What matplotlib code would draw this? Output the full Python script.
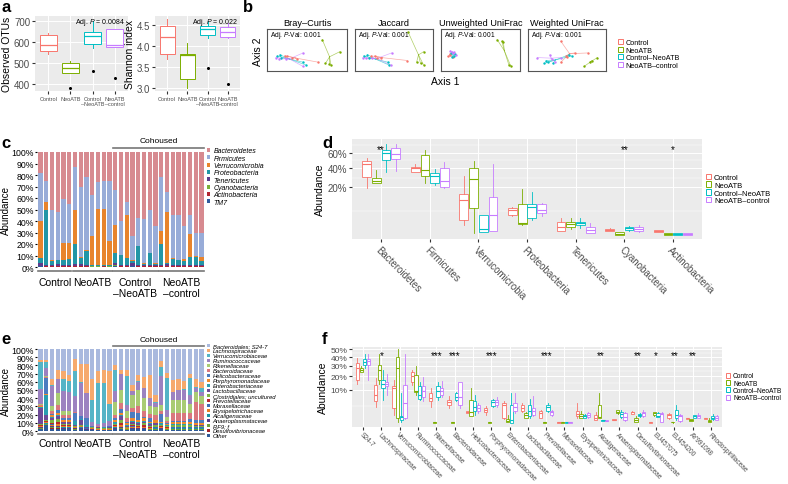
import numpy as np
import matplotlib.pyplot as plt
import matplotlib.transforms as mtransforms
from matplotlib.patches import Patch

plt.rcParams['font.family'] = ['Liberation Sans', 'DejaVu Sans']
plt.rcParams['mathtext.fontset'] = 'custom'
plt.rcParams['mathtext.it'] = 'Liberation Sans:italic'
plt.rcParams['mathtext.rm'] = 'Liberation Sans'

# ---------------- data ----------------
groups = ['Control', 'NeoATB', 'Control–NeoATB', 'NeoATB–control']
group_ticks = ['Control', 'NeoATB', 'Control\n–NeoATB', 'NeoATB\n–control']
group_colors = ['#F8766D', '#7CAE00', '#00BFC4', '#C77CFF']

# a: alpha diversity (low whisker, q1, median, q3, high whisker, outlier)
otu_lo = [545, 455, 575, 578]
otu_q1 = [560, 455, 590, 578]
otu_med = [585, 478, 632, 585]
otu_q3 = [635, 502, 650, 665]
otu_hi = [645, 510, 700, 665]
otu_out = [None, 380, 465, 430]

sh_lo = [3.70, 3.00, 4.20, 4.20]
sh_q1 = [3.82, 3.22, 4.27, 4.22]
sh_med = [4.22, 3.78, 4.40, 4.33]
sh_q3 = [4.47, 3.82, 4.48, 4.45]
sh_hi = [4.65, 4.07, 4.60, 4.55]
sh_out = [None, None, 3.47, 3.10]

# b: ordination points per group (x list, y list)
ord_titles = ['Bray–Curtis', 'Jaccard', 'Unweighted UniFrac', 'Weighted UniFrac']
bray = {
    'Control': ([.22, .25, .31, .38, .64], [.36, .36, .32, .29, .21]),
    'NeoATB': ([.69, .91, .73, .78, .80], [.75, .46, .18, .16, .14]),
    'Control–NeoATB': ([.13, .16, .18, .45, .49], [.36, .39, .32, .21, .14]),
    'NeoATB–control': ([.11, .15, .45, .45, .24], [.32, .29, .43, .11, .29]),
}
jaccard = {
    'Control': ([.21, .25, .33, .67, .28], [.36, .36, .32, .25, .30]),
    'NeoATB': ([.68, .88, .79, .84, .88], [.93, .46, .21, .18, .14]),
    'Control–NeoATB': ([.11, .16, .18, .42, .44], [.36, .39, .32, .21, .14]),
    'NeoATB–control': ([.10, .14, .47, .46, .22], [.32, .30, .43, .14, .30]),
}
unweighted = {
    'Control': ([.09, .12, .15, .11], [.35, .38, .33, .40]),
    'NeoATB': ([.71, .77, .79, .86, .88], [.75, .71, .68, .14, .13]),
    'Control–NeoATB': ([.13, .16, .18, .14], [.44, .36, .40, .33]),
    'NeoATB–control': ([.12, .15, .17, .19, .14], [.48, .42, .45, .38, .46]),
}
weighted = {
    'Control': ([.42, .49, .60, .77, .42, .50], [.71, .36, .43, .43, .21, .33]),
    'NeoATB': ([.72, .79, .82, .89], [.11, .21, .25, .32]),
    'Control–NeoATB': ([.23, .21, .32, .53, .56, .26], [.25, .18, .18, .39, .36, .22]),
    'NeoATB–control': ([.12, .28, .35, .42, .31], [.32, .39, .21, .32, .29]),
}

# c: phylum relative abundance per sample (%)
phyla = ['Bacteroidetes', 'Firmicutes', 'Verrucomicrobia', 'Proteobacteria',
         'Tenericutes', 'Cyanobacteria', 'Actinobacteria', 'TM7']
phyla_colors = ['#D78A90', '#98ACD8', '#E8842C', '#2296A6', '#5E3B8C', '#7AAE3A', '#B22530', '#2F5B9E']
bacteroidetes = [18, 25, 50, 52, 41, 45, 13, 30, 22, 37, 26, 25, 25, 34, 60, 43, 73, 57, 58, 50, 64, 22, 35, 55, 55, 64, 55, 70, 70]
firmicutes = [42, 18, 44, 41.5, 38, 34, 37, 61, 63.5, 36, 23, 24, 52, 30, 29.5, 12, 21.5, 24.5, 38.5, 37.5, 32, 47, 17, 37.5, 38.5, 29, 16, 20.5, 21]
verrucomicrobia = [32, 7, 1, 0.5, 15, 14, 30, 1, 0.5, 25, 49, 49, 20.5, 25, 0.5, 37, 0.5, 0.5, 0.5, 0.5, 1, 11, 44, 0.5, 0.5, 2, 20, 0.5, 4]
proteobacteria = [5, 48, 3, 3.5, 4, 5, 17.5, 5.5, 12, 0.7, 0.5, 0.5, 1, 8, 8, 6, 2, 16, 1, 10, 1, 18, 1.5, 5, 4, 3, 7, 7, 3]
tenericutes = [2, 1, 1, 1.5, 1, 1, 1.5, 1.5, 1, 0.3, 0.5, 0.5, 0.5, 2, 1, 1, 2, 1, 1, 1, 1, 1, 1.5, 1, 1, 1, 1, 1, 1]
cyanobacteria = [0.3, 0.2, 0.3, 0.3, 0.3, 0.3, 0.2, 0.3, 0.3, 0.2, 0.2, 0.2, 0.2, 0.8, 0.4, 0.3, 0.4, 0.3, 0.3, 0.3, 0.3, 0.3, 0.3, 0.3, 0.3, 0.3, 0.3, 0.3, 0.3]
actinobacteria = [0.3, 0.4, 0.3, 0.3, 0.3, 0.3, 0.3, 0.3, 0.3, 0.2, 0.2, 0.2, 0.2, 0.4, 0.3, 0.3, 0.3, 0.3, 0.3, 0.3, 0.3, 0.3, 0.3, 0.3, 0.3, 0.3, 0.3, 0.3, 0.3]
tm7 = [0.5, 0.3, 0.4, 0.3, 0.4, 0.3, 0.3, 0.4, 0.3, 0.2, 0.2, 0.3, 0.2, 0.6, 0.4, 0.3, 0.5, 0.3, 0.4, 0.3, 0.3, 0.4, 0.3, 0.4, 0.3, 0.3, 0.4, 0.3, 0.3]
group_spans = [(0, 5), (6, 12), (13, 20), (21, 28)]

# d: phylum box stats (%): (low, q1, median, q3, high)
d_control = [(19.4, 30.1, 44.5, 48.7, 53.1), (34.8, 34.8, 39.3, 41.6, 44.5), (0.77, 2.0, 10.6, 15.0, 31.1),
             (3.0, 3.5, 5.5, 6.2, 6.9), (0.12, 0.15, 0.6, 1.4, 2.4), (0.1, 0.14, 0.21, 0.28, 0.4), (0.05, 0.06, 0.14, 0.19, 0.19)]
d_neoatb = [(24.0, 24.0, 25.6, 28.5, 37.7), (23.7, 31.1, 37.4, 56.7, 64.9), (0.02, 6.2, 27.9, 39.3, 48.7),
            (0.9, 1.0, 1.2, 8.2, 18.9), (0.28, 0.56, 1.0, 1.4, 2.4), (0.0, 0.0, 0.004, 0.06, 0.06), (0.0, 0.0, 0.01, 0.03, 0.03)]
d_cn = [(35.5, 50.0, 60.0, 64.0, 74.3), (22.3, 24.0, 31.1, 33.6, 38.5), (0.06, 0.06, 0.31, 3.5, 3.5),
        (2.0, 2.4, 6.7, 8.4, 16.3), (0.4, 0.77, 1.27, 1.56, 2.6), (0.12, 0.19, 0.38, 0.6, 0.75), (0.0, 0.0, 0.01, 0.03, 0.03)]
d_nc = [(36.6, 50.8, 57.7, 67.4, 74.3), (19.4, 20.3, 25.6, 39.3, 47.4), (0.1, 0.16, 3.5, 12.7, 44.5),
        (3.3, 4.1, 5.5, 8.2, 8.8), (0.02, 0.03, 0.21, 0.56, 1.3), (0.08, 0.15, 0.35, 0.55, 0.85), (0.0, 0.0, 0.01, 0.03, 0.03)]
d_stars = ['**', '', '', '', '', '**', '*']

# e: family relative abundance per sample (%)
families = ['Bacteroidales; S24-7', 'Lachnospiraceae', 'Verrucomicrobiaceae', 'Ruminococcaceae', 'Rikenellaceae',
            'Bacteroidaceae', 'Helicobacteraceae', 'Porphyromonadaceae', 'Enterobacteriaceae', 'Lactobacillaceae',
            'Clostridiales; uncultured', 'Prevotellaceae', 'Moraxellaceae', 'Erysipelotrichaceae', 'Alcaligenaceae',
            'Anaeroplasmataceae', 'RF9; f', 'Desulfovibrionaceae', 'Other']
family_colors = ['#A9B9DE', '#F6A96C', '#55B4C6', '#9C82C0', '#A9CB73', '#D9777E', '#4B7CC0', '#F08A2C', '#2A9DB0',
                 '#6E4A97', '#7DB441', '#B8282E', '#3D6DB5', '#E97C26', '#1B93A5', '#593C8A', '#6E9F3A', '#A32228', '#2F5B99']
s24_7 = [14, 13, 38, 27, 28, 33, 13, 20, 22, 37, 28, 27, 28, 22, 25, 28, 45, 32, 35, 32, 57, 16, 30, 38, 37, 38, 30, 38, 42]
lachno = [3, 3, 7, 10, 10, 7, 15, 22, 35, 26, 14, 16, 40, 6, 5, 7, 7, 8, 13, 28, 8, 7, 5, 14, 13, 10, 5, 10, 8]
verruco = [33, 7, 1, 0.5, 14, 14, 30, 1, 0.5, 26, 50, 49, 21, 25, 0.5, 35, 0.5, 0.5, 0.5, 0.5, 1, 11, 40, 0.5, 0.5, 2, 20, 0.5, 4]
rumino = [18, 10, 25, 17, 25, 23, 20, 40, 30, 5, 3, 4, 6, 14, 20, 8, 5, 10, 12, 10, 5, 35, 8, 10, 12, 12, 12, 5, 5]
rikenell = [1, 1, 5, 15, 5, 5, 0.2, 0.2, 0.2, 0.2, 0.2, 0.2, 0.2, 15, 15, 8, 15, 20, 15, 10, 10, 8, 5, 15, 15, 15, 10, 12, 10]
bacteroid = [1, 1, 4, 6, 3, 4, 0.2, 0.2, 0.2, 0.2, 0.2, 0.2, 0.2, 4, 8, 5, 5, 8, 8, 4, 6, 3, 3, 10, 10, 10, 8, 22, 20]
helico = [1, 20, 2, 3, 3, 2, 10, 3, 8, 0.5, 0.3, 0.3, 0.5, 3, 4, 2, 8, 8, 1, 5, 0.5, 10, 1, 2, 2, 2, 4, 4, 3]
porphyro = [1, 1, 2, 3, 1.5, 2, 0.2, 0.2, 0.2, 0.2, 0.2, 0.2, 0.2, 2, 3, 2, 4, 3, 4, 2, 3, 1, 1, 2, 2, 2, 2, 2, 2]
entero = [1, 25, 1, 1, 1, 1, 5, 2, 2, 0.2, 0.2, 0.2, 0.3, 2, 1, 1, 0.5, 1, 0.5, 1, 0.5, 2, 0.5, 0.5, 0.5, 0.5, 0.5, 0.5, 0.5]
lacto = [20, 6, 3, 4, 1.5, 1.5, 1, 5, 1, 0.5, 1, 1, 1, 1, 5, 1, 2, 2, 2, 1.5, 2, 1, 1, 1, 1, 1, 1, 1, 1]
clostr = [1, 1, 3, 3, 2, 2, 1, 2, 1, 1, 1, 0.5, 1, 1, 4, 1, 2, 2, 2, 1.5, 2, 1, 1, 1.5, 1.5, 1.5, 1.5, 1, 1]
prevo = [0.5, 0.5, 2, 2.5, 1, 1, 0.1, 0.1, 0.1, 0.1, 0.1, 0.1, 0.1, 1, 2, 0.5, 1.5, 1, 2, 1, 1, 0.5, 0.5, 1, 1, 1, 1, 1, 1]
morax = [0.5, 0.5, 0.5, 0.5, 0.5, 0.5, 0.3, 0.3, 0.2, 0.2, 0.2, 0.2, 0.2, 0.5, 0.5, 0.3, 0.5, 0.3, 0.3, 0.3, 0.3, 0.3, 0.3, 0.3, 0.3, 0.3, 0.3, 0.3, 0.3]
erysip = [1, 1, 1.5, 2, 1, 1, 1, 1, 0.5, 1, 0.5, 0.5, 0.5, 1, 2, 0.5, 1.5, 1, 1.5, 1, 1, 1, 1, 1, 1, 1, 1, 1, 1]
alcalig = [0.5, 1, 0.5, 0.5, 0.5, 0.5, 0.5, 0.5, 0.3, 0.2, 0.2, 0.2, 0.2, 0.5, 0.5, 0.3, 0.3, 0.3, 0.3, 0.3, 0.3, 0.3, 0.3, 0.3, 0.3, 0.3, 0.3, 0.3, 0.3]
anaero = [1, 1, 1, 1.5, 1, 1, 1, 1, 0.5, 0.2, 0.2, 0.2, 0.2, 1, 1, 0.5, 0.5, 0.5, 0.5, 0.5, 0.5, 1, 0.5, 0.5, 0.5, 0.5, 0.5, 0.5, 0.5]
rf9 = [0.5, 0.5, 1, 1, 0.5, 0.5, 0.5, 0.5, 0.3, 0.2, 0.2, 0.2, 0.2, 0.5, 1, 0.3, 0.5, 0.5, 0.5, 0.3, 0.5, 0.5, 0.3, 0.5, 0.5, 0.5, 0.5, 0.5, 0.5]
desulfo = [0.5, 0.5, 0.5, 0.5, 0.5, 0.5, 0.3, 0.5, 0.3, 0.2, 0.2, 0.2, 0.2, 0.5, 0.5, 0.3, 0.3, 0.3, 0.3, 0.3, 0.3, 0.3, 0.3, 0.3, 0.3, 0.3, 0.3, 0.3, 0.3]
other = [2.5, 7, 3, 3, 2, 2, 1.5, 2, 1, 1.3, 1, 1, 1, 2, 2, 1.5, 2, 2, 2, 1.5, 1.5, 2, 1.5, 1.5, 1.5, 1.5, 1.5, 1.5, 1.5]

# f: family box stats (%)
f_names = ['S24-7', 'Lachnospiraceae', 'Verrucomicrobiaceae', 'Ruminococcaceae', 'Rikenellaceae', 'Bacteroidaceae',
           'Helicobacteraceae', 'Porphyromonadaceae', 'Enterobacteriaceae', 'Lactobacillaceae', 'Prevotellaceae',
           'Moraxellaceae', 'Erysipelotrichaceae', 'Alcaligenaceae', 'Anaeroplasmataceae', 'Desulfovibrionaceae',
           'EU457075', 'EU454200', 'AY991098', 'Rhodospirillaceae']
f_control = [(14.1, 17.2, 28.3, 32.6, 38.8), (2.4, 4.2, 7.3, 13.2, 18.3), (0.49, 2.0, 11.3, 12.2, 17.2),
             (13.2, 15.1, 19.9, 23.8, 25.6), (2.4, 4.2, 5.6, 8.1, 11.3), (2.0, 2.8, 3.9, 4.8, 6.7),
             (0.9, 0.9, 1.0, 1.3, 1.3), (0.57, 1.0, 1.6, 2.0, 2.5), (0.13, 0.24, 2.8, 3.7, 4.2),
             (1.0, 1.3, 2.0, 2.8, 3.7), (0.24, 0.24, 0.8, 1.3, 1.6), (0.0, 0.0, 0.003, 0.01, 0.01),
             (0.24, 0.38, 0.65, 1.3, 3.7), (0.05, 0.08, 0.24, 0.49, 1.0), (0.05, 0.05, 0.08, 0.1, 0.1),
             (0.65, 0.65, 1.0, 1.1, 1.3), (0.0, 0.0, 0.003, 0.005, 0.005), (0.13, 0.19, 0.49, 0.65, 0.8),
             (0.13, 0.13, 0.19, 0.24, 0.24), (0.1, 0.1, 0.19, 0.24, 0.24)]
f_neoatb = [(24.3, 24.3, 25.6, 27.5, 29.7), (14.1, 17.2, 25.6, 31.2, 44.0), (0.01, 0.24, 28.3, 40.5, 50.0),
            (7.3, 8.8, 9.6, 21.3, 29.7), (0.0, 0.0, 0.001, 0.005, 0.005), (0.0, 0.0, 0.001, 0.003, 0.003),
            (0.38, 0.38, 1.0, 4.8, 11.3), (0.0, 0.0, 0.001, 0.003, 0.003), (0.01, 0.01, 0.03, 0.13, 0.57),
            (0.19, 0.24, 0.49, 0.8, 1.0), (0.0, 0.0, 0.001, 0.003, 0.003), (0.0, 0.0, 0.001, 0.003, 0.003),
            (0.19, 0.24, 0.38, 0.65, 1.3), (0.19, 0.24, 0.29, 2.8, 8.1), (0.65, 0.8, 1.0, 1.5, 1.6),
            (0.003, 0.01, 0.05, 0.24, 0.38), (0.38, 0.49, 0.8, 1.0, 1.1), (0.0, 0.0005, 0.003, 0.01, 0.01),
            (0.03, 0.03, 0.08, 0.13, 0.13), (0.005, 0.01, 0.03, 0.08, 0.19)]
f_cn = [(28.3, 31.2, 34.1, 37.2, 44.0), (4.8, 11.3, 13.6, 17.2, 25.6), (0.01, 0.05, 0.29, 0.38, 8.1),
        (4.8, 5.4, 7.3, 12.2, 15.1), (4.8, 6.0, 9.3, 12.2, 15.1), (4.2, 4.8, 6.3, 8.1, 8.8),
        (0.57, 1.3, 2.4, 4.2, 7.3), (2.4, 2.5, 4.0, 4.8, 5.4), (0.0, 0.0, 0.08, 2.8, 8.1),
        (0.24, 0.38, 1.3, 2.8, 5.4), (1.0, 1.3, 2.4, 2.8, 3.7), (0.0, 0.0, 0.001, 0.003, 0.003),
        (0.24, 0.24, 0.38, 0.57, 0.65), (0.03, 0.03, 0.05, 0.08, 0.08), (0.19, 0.29, 0.65, 1.0, 1.6),
        (0.29, 0.38, 0.49, 0.65, 0.8), (0.29, 0.29, 0.38, 0.8, 1.0), (0.08, 0.19, 0.49, 1.6, 2.8),
        (0.24, 0.24, 0.38, 0.49, 0.49), (0.08, 0.13, 0.24, 0.38, 0.65)]
f_nc = [(17.2, 31.2, 35.7, 38.2, 44.0), (7.3, 12.2, 13.6, 15.5, 21.8), (0.13, 0.24, 3.7, 13.2, 44.0),
        (4.2, 6.0, 9.6, 12.2, 19.5), (6.0, 7.3, 9.6, 11.3, 16.2), (2.0, 2.8, 6.0, 15.1, 15.1),
        (0.8, 1.3, 2.0, 2.8, 3.7), (2.4, 2.8, 4.0, 4.8, 6.0), (0.8, 1.3, 2.4, 3.7, 8.1),
        (0.38, 0.57, 1.3, 2.0, 6.7), (0.38, 0.57, 1.0, 1.3, 1.6), (0.0, 0.0, 0.001, 0.003, 0.003),
        (0.24, 0.29, 0.57, 0.8, 1.0), (0.02, 0.02, 0.03, 0.05, 0.05), (0.03, 0.05, 0.29, 0.8, 1.0),
        (0.29, 0.38, 0.8, 1.1, 1.6), (0.003, 0.01, 0.65, 0.8, 1.0), (0.01, 0.03, 0.38, 0.57, 0.65),
        (0.19, 0.24, 0.38, 0.49, 0.8), (0.05, 0.08, 0.24, 0.38, 0.49)]
f_stars = ['', '*', '', '', '***', '***', '', '***', '', '', '***', '', '', '**', '', '**', '*', '**', '**', '']

# ---------------- figure ----------------
W, H = 788, 485
fig = plt.figure(figsize=(7.88, 4.85), dpi=100)


def px_axes(x0, y0, x1, y1):
    return fig.add_axes([x0 / W, 1 - y1 / H, (x1 - x0) / W, (y1 - y0) / H])


def gg_style(ax):
    ax.set_facecolor('#EBEBEB')
    for s in ax.spines.values():
        s.set_visible(False)
    ax.grid(True, which='both', color='white', lw=0.7)
    ax.grid(True, which='minor', color='white', lw=0.35)
    ax.set_axisbelow(True)
    ax.tick_params(length=2, color='#333333', labelcolor='#4D4D4D', labelsize=6.5, pad=1.5)


def draw_boxes(ax, positions, stats, colors, width, fliers=None, lw=0.7):
    bx = []
    for i, (lo, q1, med, q3, hi) in enumerate(stats):
        fl = [] if fliers is None or fliers[i] is None else [fliers[i]]
        bx.append(dict(whislo=lo, q1=q1, med=med, q3=q3, whishi=hi, fliers=fl))
    res = ax.bxp(bx, positions=positions, widths=width, patch_artist=True, showcaps=False,
                 manage_ticks=False,
                 flierprops=dict(marker='o', markersize=1.2, markerfacecolor='black', markeredgecolor='black'))
    for i, c in enumerate(colors):
        res['boxes'][i].set(facecolor='white', edgecolor=c, lw=lw)
        res['medians'][i].set(color=c, lw=lw + 0.2)
        res['whiskers'][2 * i].set(color=c, lw=lw)
        res['whiskers'][2 * i + 1].set(color=c, lw=lw)


def letter(x, y, s):
    fig.text(x / W, 1 - y / H, s, fontsize=12, fontweight='bold', va='center', ha='left')


# ----- a -----
letter(1, 8, 'a')
a_sets = [
    ((35, 17, 128, 92), 'Observed OTUs', list(zip(otu_lo, otu_q1, otu_med, otu_q3, otu_hi)), otu_out,
     (368, 725), [400, 500, 600, 700], 'Adj. $P$ = 0.0084'),
    ((155, 17, 240, 92), 'Shannon index', list(zip(sh_lo, sh_q1, sh_med, sh_q3, sh_hi)), sh_out,
     (2.93, 4.72), [3.0, 3.5, 4.0, 4.5], 'Adj. $P$ = 0.022'),
]
for box, ylab, stats, outs, ylim, yt, ptxt in a_sets:
    ax = px_axes(*box)
    gg_style(ax)
    draw_boxes(ax, [1, 2, 3, 4], stats, group_colors, 0.75, fliers=outs)
    ax.set_xlim(0.4, 4.6)
    ax.set_ylim(*ylim)
    ax.set_yticks(yt)
    ax.set_xticks([1, 2, 3, 4])
    ax.set_xticklabels(group_ticks, fontsize=4.0, linespacing=0.95)
    ax.tick_params(axis='y', labelsize=7)
    ax.set_ylabel(ylab, fontsize=7.5, labelpad=1)
    ax.text(0.97, 0.93, ptxt, transform=ax.transAxes, ha='right', va='center', fontsize=5)

# ----- b -----
letter(243, 8, 'b')
b_boxes = [(267, 30, 347, 72), (355, 30, 433, 72), (441, 30, 520, 72), (528, 30, 606, 72)]
for box, title, data in zip(b_boxes, ord_titles, [bray, jaccard, unweighted, weighted]):
    ax = px_axes(*box)
    ax.set_xticks([])
    ax.set_yticks([])
    for s in ax.spines.values():
        s.set_color('#555555')
        s.set_linewidth(0.8)
    for g, c in zip(groups, group_colors):
        xs, ys = data[g]
        cx, cy = np.mean(xs), np.mean(ys)
        for x, y in zip(xs, ys):
            ax.plot([cx, x], [cy, y], color=c, lw=0.5, alpha=0.6)
        ax.scatter(xs, ys, s=3, color=c, zorder=3, linewidths=0)
    ax.set_xlim(0, 1)
    ax.set_ylim(0, 1)
    ax.set_title(title, fontsize=6.6, pad=3)
    ax.text(0.04, 0.88, 'Adj. $P$-Val: 0.001', transform=ax.transAxes, fontsize=4.8, va='center')
fig.text(258 / W, 1 - 52 / H, 'Axis 2', rotation=90, fontsize=7.5, ha='center', va='center')
fig.text(445 / W, 1 - 82 / H, 'Axis 1', fontsize=7.5, ha='center', va='center')
b_handles = [Patch(facecolor='white', edgecolor=c, lw=0.7) for c in group_colors]
fig.legend(b_handles, groups, loc='center left', bbox_to_anchor=(614 / W, 1 - 55 / H), frameon=False,
           fontsize=5.2, handlelength=0.7, handleheight=0.7, labelspacing=0.05, handletextpad=0.4,
           borderpad=0)


def stacked(ax, series, colors, names, legend_y, legend_size, legend_gap):
    x = np.arange(len(series[0]))
    bottom = np.zeros(len(x))
    for vals, c in zip(series[::-1], colors[::-1]):
        ax.bar(x, vals, bottom=bottom, width=0.72, color=c, lw=0)
        bottom += np.array(vals)
    ax.set_xlim(-0.6, len(x) - 0.4)
    ax.set_ylim(0, 100)
    ax.set_yticks(np.arange(0, 101, 10))
    ax.set_yticklabels([f'{v}%' for v in range(0, 101, 10)])
    ax.set_xticks([])
    for s in ax.spines.values():
        s.set_visible(False)
    ax.tick_params(axis='y', length=1.5, labelsize=6.3, pad=0.8)
    ax.set_ylabel('Abundance', fontsize=7, labelpad=0.5)
    tr = mtransforms.blended_transform_factory(ax.transData, ax.transAxes)
    for (a0, a1), lab in zip(group_spans, group_ticks):
        ax.plot([a0 - 0.35, a1 + 0.35], [-0.035, -0.035], color='#777777', lw=1.2, transform=tr, clip_on=False)
        ax.text((a0 + a1) / 2, -0.09, lab, transform=tr, ha='center', va='top', fontsize=7.5, linespacing=1.1)
    ax.plot([12.65, 28.35], [1.035, 1.035], color='#777777', lw=1.2, transform=tr, clip_on=False)
    ax.text(20.5, 1.07, 'Cohoused', transform=tr, ha='center', va='bottom', fontsize=6)
    handles = [Patch(facecolor=c, edgecolor='none') for c in colors]
    leg = ax.legend(handles, names, loc='upper left', bbox_to_anchor=(1.01, legend_y), frameon=False,
                    fontsize=legend_size, handlelength=0.5, handleheight=0.5, labelspacing=legend_gap,
                    handletextpad=0.5, borderpad=0, borderaxespad=0)
    for t in leg.get_texts():
        t.set_fontstyle('italic')


# ----- c -----
letter(1, 143, 'c')
ax_c = px_axes(37, 153, 205, 268)
stacked(ax_c, [bacteroidetes, firmicutes, verrucomicrobia, proteobacteria, tenericutes, cyanobacteria,
               actinobacteria, tm7], phyla_colors, phyla, 1.04, 5.0, 0.05)

# ----- e -----
letter(1, 340, 'e')
ax_e = px_axes(37, 350, 205, 432)
stacked(ax_e, [s24_7, lachno, verruco, rumino, rikenell, bacteroid, helico, porphyro, entero, lacto, clostr,
               prevo, morax, erysip, alcalig, anaero, rf9, desulfo, other], family_colors, families, 1.07, 4.2, 0.0)


def sq(v):
    v = np.asarray(v, dtype=float)
    return np.sign(v) * np.sqrt(np.abs(v))


def unsq(v):
    v = np.asarray(v, dtype=float)
    return np.sign(v) * v ** 2


def box_panel(box, names, sets, stars, ylim, majors, minors, rot_size, leg_size, ytick_size, xpad):
    ax = px_axes(*box)
    ax.set_yscale('function', functions=(sq, unsq))
    gg_style(ax)
    n = len(names)
    offs = [-0.3, -0.1, 0.1, 0.3]
    for gi, (data, c) in enumerate(zip(sets, group_colors)):
        draw_boxes(ax, [k + 1 + offs[gi] for k in range(n)], data, [c] * n, 0.18, lw=0.6)
    ax.set_xlim(0.4, n + 0.6)
    ax.set_ylim(*ylim)
    ax.set_yticks(majors)
    ax.set_yticklabels([f'{v}%' for v in majors])
    ax.set_yticks(minors, minor=True)
    ax.tick_params(axis='y', which='minor', length=0)
    ax.tick_params(axis='y', labelsize=ytick_size)
    ax.tick_params(axis='x', pad=xpad)
    ax.set_xticks(range(1, n + 1))
    ax.set_xticklabels(names, rotation=-45, ha='left', va='top', rotation_mode='anchor', fontsize=rot_size)
    ax.set_ylabel('Abundance', fontsize=7.5, labelpad=2)
    for k, s in enumerate(stars):
        if s:
            ax.text(k + 1, 0.9, s, transform=mtransforms.blended_transform_factory(ax.transData, ax.transAxes),
                    ha='center', va='center', fontsize=7)
    handles = [Patch(facecolor='white', edgecolor=c, lw=0.7) for c in group_colors]
    ax.legend(handles, groups, loc='center left', bbox_to_anchor=(1.01, 0.5), frameon=False, fontsize=leg_size,
              handlelength=0.7, handleheight=0.7, labelspacing=0.05, handletextpad=0.4, borderpad=0,
              borderaxespad=0)
    return ax


# ----- d -----
letter(322, 143, 'd')
box_panel((352, 140, 702, 240), phyla[:7], [d_control, d_neoatb, d_cn, d_nc], d_stars,
          (-0.16, 82), [20, 40, 60], [5.0, 29.1, 49.5, 71.5], 7, 5.5, 7, 1.5)

# ----- f -----
letter(322, 340, 'f')
box_panel((352, 348, 722, 428), f_names, [f_control, f_neoatb, f_cn, f_nc], f_stars,
          (-0.18, 53.3), [10, 20, 30, 40, 50], [2.5, 14.6, 24.7, 34.8, 44.9], 4.8, 4.8, 6.0, 0.8)

fig.savefig('out.png', dpi=100)
